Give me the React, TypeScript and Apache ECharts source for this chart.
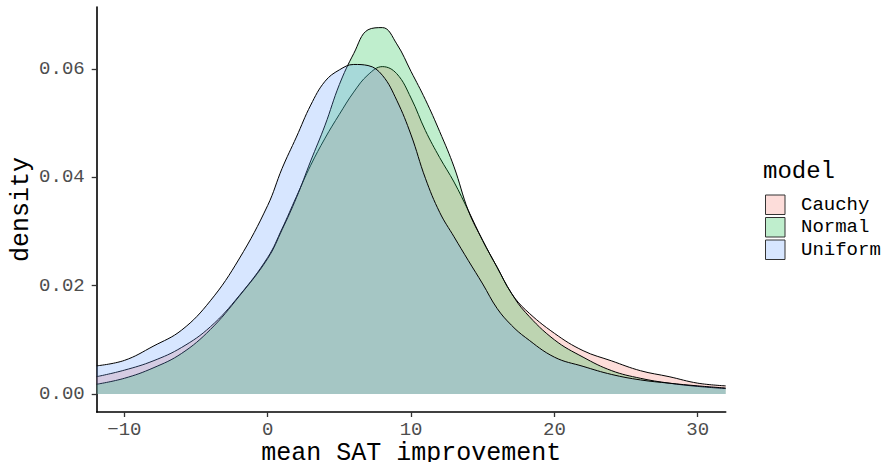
import React, { useEffect, useRef } from "react";
import * as echarts from "echarts";

const xGrid = [-11.93, -10, -8, -6, -4, -2, 0, 1, 2, 3, 4, 5, 6, 7, 8, 9, 10, 11, 12, 13, 14, 15, 16, 17, 18, 20, 22, 24, 26, 28, 30, 31.95];
const cauchy = [0.0032, 0.0044, 0.0061, 0.0086, 0.0124, 0.0181, 0.0252, 0.0305, 0.0364, 0.0422, 0.0472, 0.0516, 0.0557, 0.0589, 0.0604, 0.0591, 0.0546, 0.0486, 0.0436, 0.0391, 0.0338, 0.0283, 0.0234, 0.0186, 0.0155, 0.0112, 0.008, 0.0061, 0.0043, 0.0032, 0.002, 0.0015];
const normal = [0.0018, 0.0029, 0.0048, 0.0075, 0.0119, 0.018, 0.025, 0.0303, 0.0362, 0.043, 0.0496, 0.0571, 0.0628, 0.0672, 0.0676, 0.0646, 0.0595, 0.0543, 0.0484, 0.0419, 0.0338, 0.0283, 0.0234, 0.0186, 0.015, 0.01, 0.0068, 0.0043, 0.0029, 0.002, 0.0014, 0.001];
const uniform = [0.0052, 0.0062, 0.0088, 0.0118, 0.0172, 0.0249, 0.0348, 0.0416, 0.0474, 0.0533, 0.0577, 0.0598, 0.0608, 0.0606, 0.0588, 0.0542, 0.0478, 0.0398, 0.0335, 0.029, 0.0246, 0.0203, 0.0158, 0.0127, 0.0104, 0.0068, 0.0051, 0.0036, 0.0026, 0.002, 0.0015, 0.0011];

const modelNames = ["Cauchy", "Normal", "Uniform"];
const fillColors = ["rgba(248,118,109,0.25)", "rgba(0,186,56,0.25)", "rgba(97,156,255,0.25)"];
const xTicks = [-10, 0, 10, 20, 30];
const yTicks = [0, 0.02, 0.04, 0.06];

const FONT = "Liberation Mono";

export default function App() {
  const ref = useRef<HTMLDivElement>(null);
  useEffect(() => {
    if (!ref.current) return;
    const chart = echarts.init(ref.current, null, { renderer: "svg" });
    const seriesValues = [cauchy, normal, uniform];
    chart.setOption({
      animation: false,
      backgroundColor: "#ffffff",
      title: {
        text: "model",
        left: 763,
        top: 159,
        padding: 0,
        textStyle: { fontFamily: FONT, fontSize: 24, fontWeight: "normal", color: "#000" },
      },
      legend: {
        orient: "vertical",
        left: 765,
        top: 194.5,
        padding: 0,
        itemWidth: 19.5,
        itemHeight: 19.5,
        itemGap: 2,
        icon: "rect",
        textStyle: { fontFamily: FONT, fontSize: 19, color: "#000", lineHeight: 19.5, padding: [0, 0, 0, 11] },
        data: modelNames.map((n, i) => ({
          name: n,
          itemStyle: { color: fillColors[i], borderColor: "#333", borderWidth: 1 },
        })),
      },
      grid: { left: 96.7, right: 160.3, top: 7, bottom: 50, containLabel: false, outerBoundsMode: "none" },
      xAxis: {
        type: "value",
        min: -11.93,
        max: 31.95,
        name: "mean SAT improvement",
        nameLocation: "middle",
        nameGap: 28.5,
        nameMoveOverlap: false,
        nameTextStyle: { fontFamily: FONT, fontSize: 25, color: "#000" },
        axisLine: { show: true, onZero: false, lineStyle: { color: "#000", width: 1.6 } },
        axisTick: { show: true, length: 5, lineStyle: { color: "#333", width: 1.3 }, customValues: xTicks },
        axisLabel: {
          customValues: xTicks,
          margin: 8,
          fontFamily: FONT,
          fontSize: 19,
          color: "#4D4D4D",
          formatter: (v: number) => (v < 0 ? "\u2212" + Math.abs(v) : String(v)),
        },
        splitLine: { show: false },
      },
      yAxis: {
        type: "value",
        min: -0.00332,
        max: 0.0714,
        name: "density",
        nameLocation: "middle",
        nameRotate: 90,
        nameGap: 63,
        nameMoveOverlap: false,
        nameTextStyle: { fontFamily: FONT, fontSize: 25, color: "#000" },
        axisLine: { show: true, onZero: false, lineStyle: { color: "#000", width: 1.6 } },
        axisTick: { show: true, length: 5, lineStyle: { color: "#333", width: 1.3 }, customValues: yTicks },
        axisLabel: {
          customValues: yTicks,
          margin: 12,
          fontFamily: FONT,
          fontSize: 19,
          color: "#4D4D4D",
          formatter: (v: number) => v.toFixed(2),
        },
        splitLine: { show: false },
      },
      series: modelNames.map((n, i) => ({
        name: n,
        type: "line",
        data: xGrid.map((x, j) => [x, seriesValues[i][j]]),
        smooth: 0.4,
        symbol: "none",
        color: fillColors[i],
        lineStyle: { color: "#000", width: 1 },
        areaStyle: { color: fillColors[i], opacity: 1 },
        emphasis: { disabled: true },
        z: 2 + i,
      })),
    });
    return () => chart.dispose();
  }, []);
  return <div ref={ref} style={{ position: "fixed", left: 0, top: 0, width: 886, height: 462 }} />;
}
